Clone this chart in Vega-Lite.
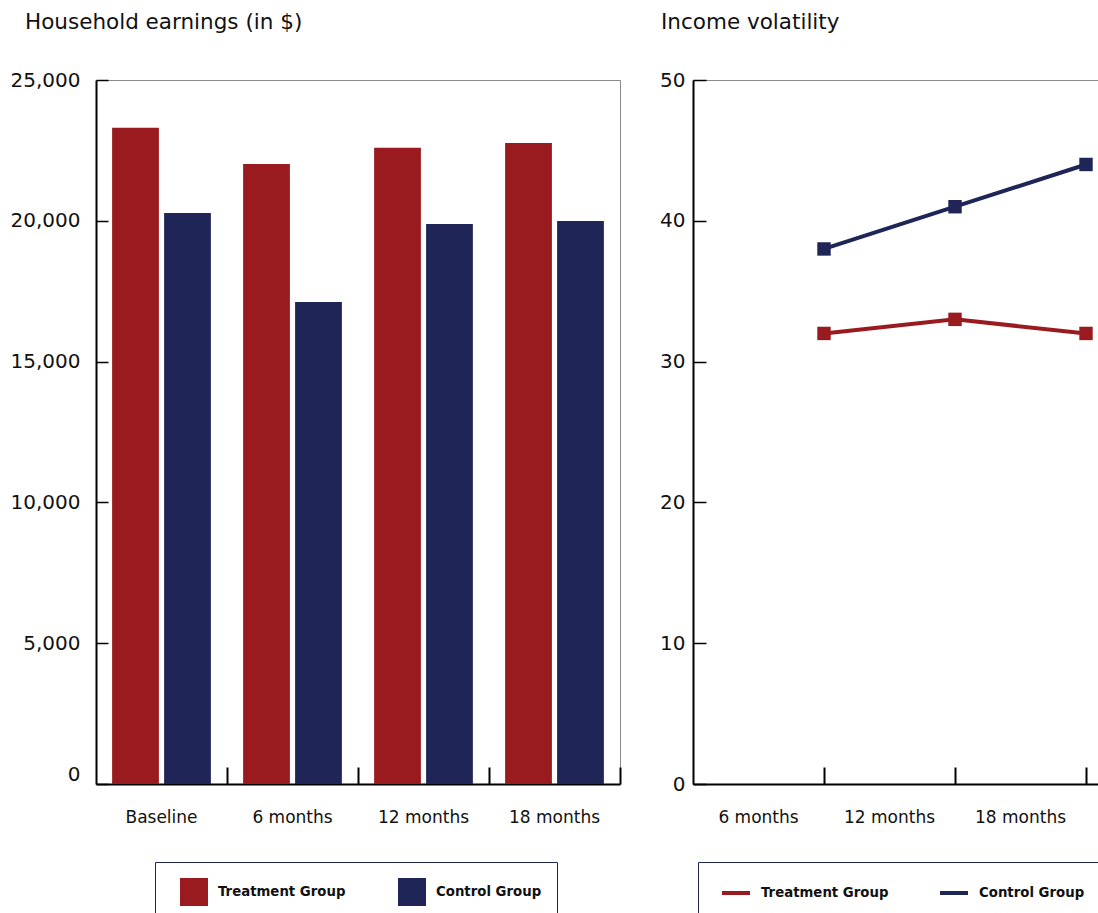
{
  "$schema": "https://vega.github.io/schema/vega-lite/v6.json",
  "padding": {"left": 9, "top": 11, "right": 0, "bottom": 0},
  "background": "white",
  "spacing": 37,
  "config": {
    "font": "DejaVu Sans",
    "view": {"stroke": "#8a8a8a", "strokeWidth": 1},
    "legend": {"strokeColor": "#1f2657", "padding": 15}
  },
  "datasets": {
    "earnings": [
      {"period": "Baseline", "group": "Treatment Group", "value": 23300},
      {"period": "Baseline", "group": "Control Group", "value": 20280},
      {"period": "6 months", "group": "Treatment Group", "value": 22020},
      {"period": "6 months", "group": "Control Group", "value": 17120},
      {"period": "12 months", "group": "Treatment Group", "value": 22590},
      {"period": "12 months", "group": "Control Group", "value": 19890},
      {"period": "18 months", "group": "Treatment Group", "value": 22760},
      {"period": "18 months", "group": "Control Group", "value": 19990}
    ],
    "volatility": [
      {"period": "6 months", "group": "Treatment Group", "value": 32},
      {"period": "12 months", "group": "Treatment Group", "value": 33},
      {"period": "18 months", "group": "Treatment Group", "value": 32},
      {"period": "6 months", "group": "Control Group", "value": 38},
      {"period": "12 months", "group": "Control Group", "value": 41},
      {"period": "18 months", "group": "Control Group", "value": 44}
    ]
  },
  "hconcat": [
    {
      "width": 524,
      "height": 704,
      "data": {"name": "earnings"},
      "title": {"text": "Household earnings (in $)", "anchor": "start", "frame": "group", "dx": -71, "offset": 37, "fontSize": 21.5, "fontWeight": "normal", "color": "#111", "font": "DejaVu Sans"},
      "mark": {"type": "bar"},
      "encoding": {
        "x": {
          "field": "period", "type": "nominal", "sort": ["Baseline", "6 months", "12 months", "18 months"],
          "scale": {"paddingInner": 0, "paddingOuter": 0},
          "axis": {"title": null, "labelAngle": 0, "labelFontSize": 17, "labelColor": "#111", "labelFont": "DejaVu Sans",
                   "bandPosition": 1, "tickSize": -17, "tickWidth": 2, "tickColor": "#000", "labelPadding": 42,
                   "domainColor": "#000", "domainWidth": 2}
        },
        "xOffset": {"field": "group", "type": "nominal", "sort": ["Treatment Group", "Control Group"],
                    "scale": {"paddingInner": 0.1, "paddingOuter": 0.31}},
        "y": {
          "field": "value", "type": "quantitative",
          "scale": {"domain": [0, 25000]},
          "axis": {"title": null, "values": [0, 5000, 10000, 15000, 20000, 25000], "format": ",d", "grid": false,
                   "labelFontSize": 20, "labelColor": "#111", "labelFont": "DejaVu Sans",
                   "tickSize": -12, "tickWidth": 1.5, "tickColor": "#000", "labelPadding": 28,
                   "labelBaseline": {"condition": {"test": "datum.value == 0", "value": "bottom"}, "value": "middle"},
                   "domainColor": "#000", "domainWidth": 2}
        },
        "color": {
          "field": "group", "type": "nominal",
          "scale": {"domain": ["Treatment Group", "Control Group"], "range": ["#9a1b1f", "#1f2657"]},
          "legend": {"title": null, "orient": "none", "legendX": 59, "legendY": 782, "direction": "horizontal",
                     "symbolType": "square", "symbolSize": 784, "symbolOffset": 9,
                     "labelOffset": 9, "labelFontSize": 13.3, "labelFontWeight": "bold", "labelColor": "#111",
                     "labelFont": "DejaVu Sans", "columnPadding": 42}
        }
      }
    },
    {
      "width": 420,
      "height": 704,
      "data": {"name": "volatility"},
      "title": {"text": "Income volatility", "anchor": "start", "frame": "group", "dx": -32, "offset": 37, "fontSize": 21.5, "fontWeight": "normal", "color": "#111", "font": "DejaVu Sans"},
      "mark": {"type": "line", "strokeWidth": 4, "point": {"shape": "square", "size": 180, "filled": true}},
      "encoding": {
        "x": {
          "field": "period", "type": "ordinal", "sort": ["6 months", "12 months", "18 months"], "bandPosition": 1,
          "scale": {"type": "band", "paddingInner": 0, "paddingOuter": 0.103, "align": 0},
          "axis": {"title": null, "labelAngle": 0, "labelFontSize": 17, "labelColor": "#111", "labelFont": "DejaVu Sans",
                   "bandPosition": 1, "tickSize": -17, "tickWidth": 2, "tickColor": "#000", "labelPadding": 42,
                   "domainColor": "#000", "domainWidth": 2}
        },
        "y": {
          "field": "value", "type": "quantitative",
          "scale": {"domain": [0, 50]},
          "axis": {"title": null, "values": [0, 10, 20, 30, 40, 50], "grid": false,
                   "labelFontSize": 20, "labelColor": "#111", "labelFont": "DejaVu Sans",
                   "tickSize": -13, "tickWidth": 1.5, "tickColor": "#000", "labelPadding": 21,
                   "domainColor": "#000", "domainWidth": 2}
        },
        "color": {
          "field": "group", "type": "nominal",
          "scale": {"domain": ["Treatment Group", "Control Group"], "range": ["#9a1b1f", "#1f2657"]},
          "legend": {"title": null, "orient": "none", "legendX": 5, "legendY": 782, "direction": "horizontal",
                     "symbolType": "stroke", "symbolSize": 784, "symbolStrokeWidth": 4, "symbolOffset": 7,
                     "labelOffset": 9, "labelFontSize": 13.3, "labelFontWeight": "bold", "labelColor": "#111",
                     "labelFont": "DejaVu Sans", "columnPadding": 42}
        }
      }
    }
  ],
  "resolve": {"scale": {"color": "independent", "x": "independent", "y": "independent"}}
}
